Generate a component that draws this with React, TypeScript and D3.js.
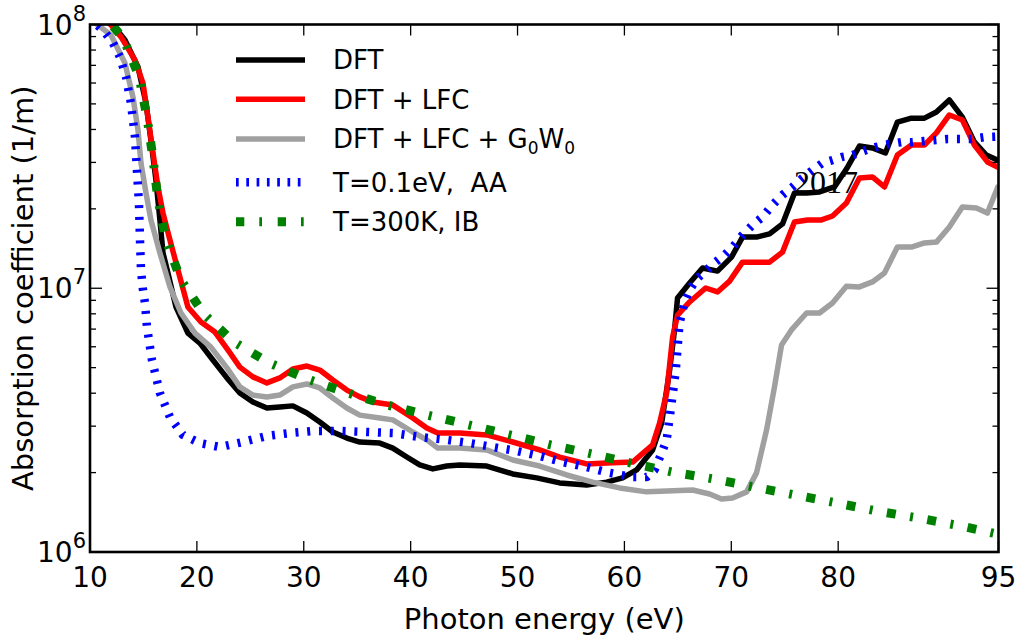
import React from "react";
import * as d3 from "d3";

// x tick labels (eV) and y decades (1/m)
const X_TICKS = [10, 20, 30, 40, 50, 60, 70, 80, 95];
const Y_MAJOR = [1e6, 1e7, 1e8];
const Y_EXP = ["6", "7", "8"];

// Series: photon energy (eV) and log10 of absorption coefficient (1/m)
const dftE = [10, 12.15, 13.27, 14.49, 15.24, 15.7, 16.17, 16.54, 16.83, 17.29, 18.04, 19.16, 20.28, 21.5, 22.81, 24.02, 25.24, 26.55, 27.76, 28.98, 30.29, 31.5, 32.72, 34.03, 35.24, 37.11, 38.33, 39.64, 40.85, 42.07, 43.38, 44.59, 47.12, 49.55, 51.79, 53.94, 56.47, 58.34, 59.83, 61.14, 62.64, 63.48, 63.95, 64.23, 64.69, 64.97, 66.1, 67.31, 68.71, 70.02, 71.05, 72.36, 73.58, 74.79, 75.91, 77.04, 78.25, 79.65, 80.77, 81.99, 83.2, 84.42, 85.54, 86.85, 88.07, 89.19, 90.4, 91.62, 92.74, 93.86, 95];
const dftLog = [8.07, 7.998, 7.941, 7.839, 7.702, 7.562, 7.41, 7.259, 7.134, 7.058, 6.929, 6.83, 6.792, 6.728, 6.66, 6.603, 6.569, 6.546, 6.55, 6.554, 6.527, 6.493, 6.455, 6.432, 6.417, 6.413, 6.394, 6.36, 6.33, 6.315, 6.326, 6.33, 6.326, 6.296, 6.281, 6.262, 6.254, 6.265, 6.281, 6.311, 6.387, 6.489, 6.614, 6.69, 6.842, 6.963, 7.02, 7.077, 7.065, 7.118, 7.194, 7.194, 7.206, 7.244, 7.361, 7.361, 7.365, 7.384, 7.452, 7.539, 7.532, 7.513, 7.63, 7.645, 7.645, 7.668, 7.714, 7.649, 7.555, 7.505, 7.484];

const lfcE = [10, 11.96, 12.9, 14.21, 14.96, 15.42, 15.89, 16.36, 16.83, 17.48, 18.23, 19.16, 20.38, 21.69, 22.9, 24.02, 25.24, 26.55, 27.76, 28.98, 30.29, 31.5, 32.72, 34.03, 35.24, 36.46, 38.33, 40.2, 41.51, 42.54, 44.59, 47.12, 49.55, 52.07, 53.94, 56.47, 58.34, 60.77, 62.64, 63.29, 63.95, 64.51, 64.97, 66.1, 67.6, 68.71, 69.84, 71.05, 72.36, 73.58, 74.79, 75.91, 77.13, 78.44, 79.47, 80.77, 81.99, 83.2, 84.33, 85.54, 86.85, 88.07, 89.19, 90.4, 91.62, 92.74, 93.96, 95];
const lfcLog = [8.08, 7.998, 7.953, 7.865, 7.778, 7.649, 7.513, 7.384, 7.285, 7.183, 7.069, 6.929, 6.872, 6.834, 6.766, 6.701, 6.664, 6.641, 6.66, 6.694, 6.705, 6.69, 6.652, 6.614, 6.588, 6.569, 6.557, 6.508, 6.47, 6.451, 6.451, 6.444, 6.417, 6.387, 6.36, 6.334, 6.337, 6.341, 6.406, 6.489, 6.603, 6.815, 6.898, 6.948, 7.001, 6.986, 7.027, 7.099, 7.099, 7.099, 7.137, 7.251, 7.259, 7.259, 7.274, 7.323, 7.418, 7.422, 7.384, 7.505, 7.543, 7.543, 7.589, 7.657, 7.638, 7.543, 7.479, 7.458];

const gwE = [10, 10.75, 11.96, 13.27, 14.02, 14.49, 14.77, 15.24, 15.7, 16.54, 17.48, 18.51, 19.82, 21.31, 22.81, 24.02, 25.24, 26.55, 27.76, 28.98, 30.29, 31.5, 32.72, 34.03, 35.24, 37.11, 38.33, 40.2, 41.51, 42.54, 44.59, 47.12, 49.55, 52.07, 54.6, 57.03, 59.55, 62.08, 63.95, 66.38, 67.97, 69.09, 70.12, 71.43, 72.36, 73.3, 74.04, 74.7, 75.63, 77.04, 78.25, 79.47, 80.77, 81.99, 83.2, 84.33, 85.54, 86.85, 88.07, 89.19, 90.4, 91.62, 92.93, 93.96, 95];
const gwLog = [8.02, 7.998, 7.96, 7.854, 7.725, 7.6, 7.475, 7.361, 7.259, 7.134, 7.005, 6.906, 6.83, 6.777, 6.698, 6.626, 6.595, 6.588, 6.595, 6.626, 6.637, 6.622, 6.584, 6.546, 6.519, 6.508, 6.501, 6.455, 6.425, 6.394, 6.394, 6.387, 6.349, 6.326, 6.292, 6.265, 6.243, 6.228, 6.231, 6.235, 6.22, 6.201, 6.205, 6.228, 6.3, 6.463, 6.626, 6.785, 6.842, 6.906, 6.906, 6.944, 7.008, 7.005, 7.024, 7.058, 7.156, 7.156, 7.172, 7.175, 7.232, 7.308, 7.304, 7.285, 7.39];

const aaE = [10, 10.65, 11.22, 12.15, 12.8, 13.37, 13.83, 14.21, 14.39, 14.58, 14.67, 14.77, 14.96, 15.14, 15.33, 15.8, 16.54, 17.48, 18.69, 20.28, 22.15, 24.3, 26.55, 28.7, 30.85, 33.37, 35.9, 38.33, 40.85, 43.38, 45.53, 47.68, 49.92, 52.07, 54.22, 56.47, 58.62, 60.77, 62.08, 62.82, 63.48, 63.95, 64.23, 64.51, 64.79, 64.97, 65.16, 65.63, 66.1, 66.75, 67.5, 68.43, 69.37, 70.12, 71.05, 71.99, 72.92, 73.86, 74.79, 75.73, 76.66, 77.6, 78.53, 79.47, 80.4, 81.33, 82.64, 83.58, 84.79, 85.92, 86.94, 88.07, 89.19, 90.22, 91.34, 92.46, 93.68, 95];
const aaLog = [8.03, 7.998, 7.979, 7.93, 7.877, 7.801, 7.702, 7.573, 7.448, 7.323, 7.194, 7.069, 6.993, 6.944, 6.853, 6.728, 6.603, 6.512, 6.444, 6.413, 6.398, 6.417, 6.44, 6.451, 6.459, 6.459, 6.455, 6.451, 6.436, 6.425, 6.413, 6.398, 6.383, 6.364, 6.341, 6.322, 6.3, 6.284, 6.284, 6.311, 6.375, 6.425, 6.508, 6.595, 6.682, 6.773, 6.868, 6.948, 6.993, 7.035, 7.062, 7.096, 7.126, 7.156, 7.202, 7.24, 7.27, 7.316, 7.354, 7.384, 7.418, 7.448, 7.475, 7.486, 7.498, 7.505, 7.524, 7.536, 7.547, 7.554, 7.554, 7.558, 7.562, 7.566, 7.566, 7.566, 7.573, 7.575];

const ibE = [10, 12.06, 13.09, 14.58, 15.33, 15.89, 16.36, 17.11, 18.51, 20.66, 23.46, 26.83, 30.38, 34.12, 37.86, 41.6, 45.43, 49.27, 53.1, 56.93, 60.67, 64.51, 68.34, 72.17, 76.01, 79.84, 83.67, 87.51, 91.43, 94.89];
const ibLog = [8.12, 7.998, 7.949, 7.805, 7.649, 7.494, 7.335, 7.183, 7.031, 6.902, 6.796, 6.716, 6.655, 6.603, 6.557, 6.519, 6.482, 6.444, 6.406, 6.372, 6.337, 6.303, 6.277, 6.246, 6.216, 6.186, 6.155, 6.129, 6.099, 6.068];

const LEGEND_LABELS = ["DFT", "DFT + LFC", "DFT + LFC + G0W0", "T=0.1eV,  AA", "T=300K, IB"];

const W = 1022;
const H = 640;
const M = { left: 90, right: 998.5, top: 24.5, bottom: 552 };
const FONT = "'DejaVu Sans', sans-serif";

type Style = { color: string; width: number; dash?: string; legendDash?: string };

const STYLES: Style[] = [
  { color: "#000000", width: 5.5 },
  { color: "#ff0000", width: 5.5 },
  { color: "#a0a0a0", width: 5.5 },
  { color: "#0000ff", width: 8.5, dash: "3 8.8", legendDash: "2.7 7.6" },
  { color: "#008000", width: 9, dash: "9 14.5 3 14.5", legendDash: "8.3 15 2.7 15.7" },
];

export default function App() {
  const x = d3.scaleLinear().domain([10, 95]).range([M.left, M.right]);
  const y = d3.scaleLog().domain([1e6, 1e8]).range([M.bottom, M.top]);

  const series = [
    { e: dftE, v: dftLog },
    { e: lfcE, v: lfcLog },
    { e: gwE, v: gwLog },
    { e: aaE, v: aaLog },
    { e: ibE, v: ibLog },
  ];

  const line = d3
    .line<[number, number]>()
    .x((d) => x(d[0]))
    .y((d) => y(Math.pow(10, d[1])));

  const minor: number[] = [];
  [1e6, 1e7].forEach((dec) => {
    for (let k = 2; k <= 9; k++) minor.push(k * dec);
  });

  const legendRows = [60, 99.3, 139, 182.3, 221.7];
  const legendTextDy = 9.3;

  return (
    <svg
      width={W}
      height={H}
      style={{ position: "absolute", left: 0, top: 0, background: "#fff" }}
      fontFamily={FONT}
    >
      <rect x={0} y={0} width={W} height={H} fill="#fff" />
      <defs>
        <clipPath id="plotclip">
          <rect x={M.left} y={M.top} width={M.right - M.left} height={M.bottom - M.top} />
        </clipPath>
      </defs>

      <g clipPath="url(#plotclip)">
        {series.map((s, i) => (
          <path
            key={i}
            d={line(s.e.map((e, j) => [e, s.v[j]] as [number, number])) || ""}
            fill="none"
            stroke={STYLES[i].color}
            strokeWidth={STYLES[i].width}
            strokeDasharray={STYLES[i].dash}
            strokeLinejoin="round"
          />
        ))}
      </g>

      {/* ticks */}
      <g stroke="#000" strokeWidth={1.3}>
        {X_TICKS.map((t) => (
          <g key={"xt" + t}>
            <line x1={x(t)} x2={x(t)} y1={M.bottom} y2={M.bottom - 11} />
            <line x1={x(t)} x2={x(t)} y1={M.top} y2={M.top + 11} />
          </g>
        ))}
        {Y_MAJOR.map((t) => (
          <g key={"yt" + t}>
            <line x1={M.left} x2={M.left + 12} y1={y(t)} y2={y(t)} />
            <line x1={M.right} x2={M.right - 12} y1={y(t)} y2={y(t)} />
          </g>
        ))}
        {minor.map((t) => (
          <g key={"ym" + t}>
            <line x1={M.left} x2={M.left + 6} y1={y(t)} y2={y(t)} />
            <line x1={M.right} x2={M.right - 6} y1={y(t)} y2={y(t)} />
          </g>
        ))}
      </g>

      <rect
        x={M.left}
        y={M.top}
        width={M.right - M.left}
        height={M.bottom - M.top}
        fill="none"
        stroke="#000"
        strokeWidth={2.6}
      />

      {/* x tick labels */}
      {X_TICKS.map((t) => (
        <text key={"xl" + t} x={x(t)} y={587} fontSize={28} textAnchor="middle" fill="#000">
          {t}
        </text>
      ))}

      {/* y tick labels */}
      {Y_MAJOR.map((t, i) => (
        <text key={"yl" + t} x={86} y={y(t) + 10} fontSize={28} textAnchor="end" fill="#000">
          10
          <tspan fontSize={21} dy={-14}>
            {Y_EXP[i]}
          </tspan>
        </text>
      ))}

      {/* axis labels */}
      <text x={(M.left + M.right) / 2} y={629} fontSize={29} textAnchor="middle" fill="#000">
        Photon energy (eV)
      </text>
      <text
        transform={`translate(33,${(M.top + M.bottom) / 2}) rotate(-90)`}
        fontSize={29}
        textAnchor="middle"
        fill="#000"
      >
        Absorption coefficient (1/m)
      </text>

      {/* legend */}
      {LEGEND_LABELS.map((lab, i) => {
        const yy = legendRows[i];
        const st = STYLES[i];
        return (
          <g key={"lg" + i}>
            <line
              x1={236}
              x2={305}
              y1={yy}
              y2={yy}
              stroke={st.color}
              strokeWidth={st.width}
              strokeDasharray={st.legendDash}
            />
            {i === 2 ? (
              <text x={333} y={yy + legendTextDy} fontSize={26} fill="#000">
                DFT + LFC + G
                <tspan fontSize={17} dy={6}>0</tspan>
                <tspan fontSize={26} dy={-6}>W</tspan>
                <tspan fontSize={17} dy={6}>0</tspan>
              </text>
            ) : (
              <text x={333} y={yy + legendTextDy} fontSize={26} fill="#000" style={{ whiteSpace: "pre" }}>
                {lab}
              </text>
            )}
          </g>
        );
      })}

      {/* year annotation */}
      <text x={794} y={193} fontSize={32} fontFamily="'Liberation Serif', 'Times New Roman', serif" fill="#000">
        2017
      </text>
    </svg>
  );
}
